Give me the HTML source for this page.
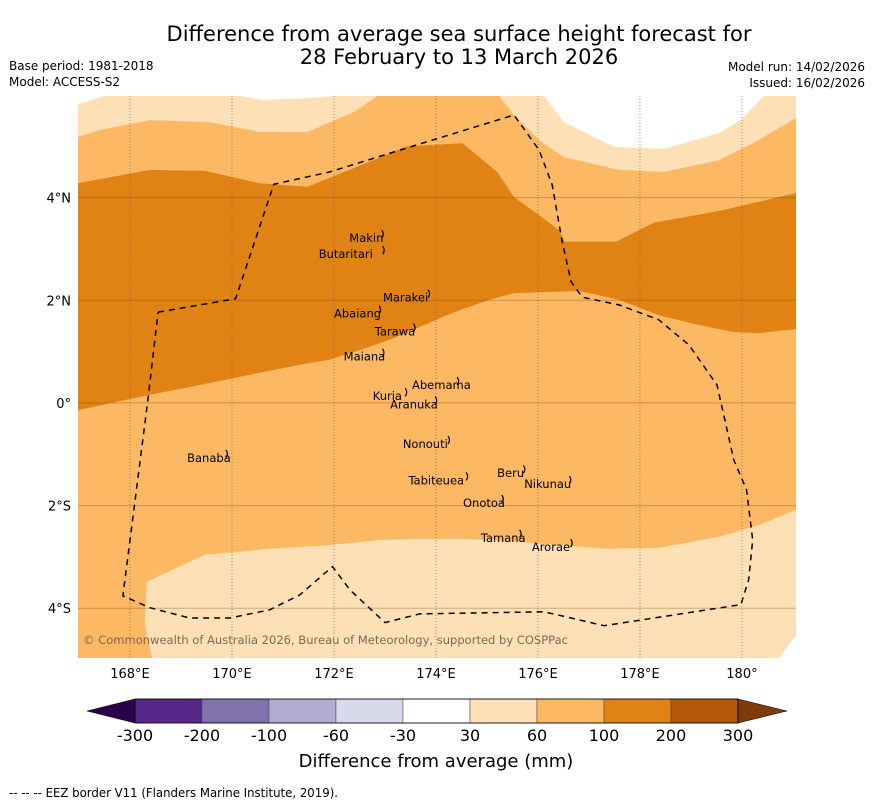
<!DOCTYPE html>
<html><head><meta charset="utf-8"><style>
html,body{margin:0;padding:0;background:#fff;}
svg{display:block;font-family:"DejaVu Sans","Liberation Sans",sans-serif;}
</style></head><body>
<svg id="chart" width="873" height="804" viewBox="0 0 873 804" xmlns="http://www.w3.org/2000/svg">
<text x="459" y="41" font-size="21" text-anchor="middle">Difference from average sea surface height forecast for</text>
<text x="459" y="64" font-size="21" text-anchor="middle">28 February to 13 March 2026</text>
<text x="9" y="70" font-size="12">Base period: 1981-2018</text>
<text x="9" y="86" font-size="12">Model: ACCESS-S2</text>
<text x="865" y="71" font-size="12" text-anchor="end">Model run: 14/02/2026</text>
<text x="865" y="87" font-size="12" text-anchor="end">Issued: 16/02/2026</text>
<defs><clipPath id="mapclip"><rect x="78" y="96" width="718" height="562"/></clipPath></defs>
<g id="map" clip-path="url(#mapclip)"></g>
<g id="axes"></g>
<g id="cbar"></g>
<text x="436" y="767" font-size="18" text-anchor="middle">Difference from average (mm)</text>
<text x="9" y="797" font-size="12" textLength="329" lengthAdjust="spacingAndGlyphs">--  --  -- EEZ border V11 (Flanders Marine Institute, 2019).</text>
</svg>
<script>
// ---- data (lon/lat) ----
const mapLonRange=[166.98,181.06];
const mapLatRange=[-4.97,5.98];
const lonTicks=[168,170,172,174,176,178,180];
const lonTickLabels=["168°E","170°E","172°E","174°E","176°E","178°E","180°"];
const latTicks=[4,2,0,-2,-4];
const latTickLabels=["4°N","2°N","0°","2°S","4°S"];
const band100to200Upper=[[166.98,4.28],[168.39,4.54],[169.47,4.52],[170.54,4.28],[171.48,4.21],[172.40,4.58],[173.44,5.00],[174.52,5.06],[175.20,4.50],[175.53,4.01],[176.02,3.66],[176.41,3.37],[176.53,3.14],[177.53,3.14],[178.27,3.51],[179.55,3.74],[181.06,4.09]];
const band100to200Lower=[[181.06,1.44],[180.33,1.36],[179.84,1.38],[179.15,1.52],[178.37,1.71],[177.59,2.01],[176.81,2.18],[176.12,2.16],[175.53,2.14],[175.05,2.01],[174.36,1.77],[173.68,1.48],[173.09,1.23],[172.50,1.03],[171.91,0.84],[171.52,0.78],[170.35,0.55],[169.37,0.35],[168.39,0.16],[166.98,-0.14]];
const light30to60TopLeft=[[166.98,5.82],[167.51,5.98],[170.15,5.98],[170.60,5.90],[171.52,5.94],[172.01,5.98],[172.85,5.98],[172.40,5.67],[171.48,5.28],[170.54,5.28],[169.57,5.47],[168.39,5.51],[167.41,5.32],[166.98,5.18]];
const white30TopLeft=[[166.98,5.98],[167.51,5.98],[166.98,5.82]];
const white30TopStrip=[[170.15,5.98],[170.60,5.90],[171.52,5.94],[172.01,5.98]];
const light30to60TopRight=[[175.24,5.98],[175.53,5.61],[176.02,5.12],[176.51,4.79],[177.59,4.54],[178.47,4.50],[179.55,4.73],[180.33,5.12],[181.06,5.55],[181.06,5.98]];
const white30TopRight=[[176.12,5.98],[176.51,5.47],[177.49,4.99],[178.47,4.95],[179.55,5.26],[179.98,5.51],[180.43,5.98]];
const light30to60Bottom=[[181.06,-2.08],[180.33,-2.38],[179.55,-2.61],[178.37,-2.82],[177.39,-2.84],[176.41,-2.77],[175.44,-2.69],[174.46,-2.65],[173.68,-2.65],[172.89,-2.67],[171.91,-2.77],[170.74,-2.84],[169.47,-2.96],[168.49,-3.41],[168.33,-3.49],[168.29,-4.32],[168.43,-4.97],[180.72,-4.97],[181.06,-4.52]];
const white30BottomRight=[[181.06,-4.52],[181.06,-4.97],[180.72,-4.97]];
const eezBorder=[[168.55,1.77],[170.07,2.03],[170.82,4.26],[171.91,4.50],[173.44,4.97],[175.53,5.61],[176.02,4.93],[176.28,4.25],[176.47,3.17],[176.65,2.36],[176.87,2.06],[177.59,1.91],[178.37,1.62],[178.96,1.13],[179.51,0.35],[179.84,-1.11],[180.09,-1.69],[180.21,-2.67],[180.13,-3.45],[179.98,-3.93],[177.30,-4.34],[176.12,-4.07],[173.68,-4.11],[173.00,-4.28],[172.31,-3.64],[171.97,-3.19],[171.33,-3.74],[170.74,-4.03],[169.96,-4.19],[169.17,-4.19],[168.39,-3.99],[167.86,-3.76],[168.35,0.06],[168.55,1.77]];
const islandNames=["Makin","Butaritari","Marakei","Abaiang","Tarawa","Maiana","Abemama","Kuria","Aranuka","Banaba","Nonouti","Beru","Nikunau","Tabiteuea","Onotoa","Tamana","Arorae"];
const islandLabelLon=[172.30,171.70,172.96,172.00,172.80,172.19,173.53,172.76,173.10,169.12,173.35,175.20,175.73,173.46,174.53,174.88,175.88];
const islandLabelLat=[3.21,2.90,2.05,1.74,1.39,0.90,0.35,0.13,-0.03,-1.07,-0.80,-1.37,-1.58,-1.51,-1.95,-2.63,-2.81];
const cbarBounds=["-300","-200","-100","-60","-30","30","60","100","200","300"];
const cbarColors=["#542788","#8073ac","#b2abd2","#d8daeb","#ffffff","#fee0b6","#fdb863","#e08214","#b35806"];
const cbarExtendColors=["#2d004b","#7f3b08"];

// ---- axis functions ----
const X0=78,X1=796,Y0=96,Y1=658;
function px(lon){return X0+(lon-mapLonRange[0])/(mapLonRange[1]-mapLonRange[0])*(X1-X0);}
function py(lat){return Y1-(lat-mapLatRange[0])/(mapLatRange[1]-mapLatRange[0])*(Y1-Y0);}
const NS="http://www.w3.org/2000/svg";
function mk(tag,attrs,parent){const e=document.createElementNS(NS,tag);for(const k in attrs)e.setAttribute(k,attrs[k]);parent.appendChild(e);return e;}
function pts(arr){return arr.map(p=>px(p[0]).toFixed(1)+","+py(p[1]).toFixed(1)).join(" ");}
const map=document.getElementById("map");
let e;
e=mk("rect",{x:X0,y:Y0,width:X1-X0,height:Y1-Y0,fill:"#fdb863"},map);


e=mk("polygon",{points:pts(band100to200Upper.concat(band100to200Lower)),fill:"#e08214"},map);


e=mk("polygon",{points:pts(light30to60TopLeft),fill:"#fee0b6"},map);


e=mk("polygon",{points:pts(white30TopLeft),fill:"#ffffff"},map);


e=mk("polygon",{points:pts(white30TopStrip),fill:"#ffffff"},map);


e=mk("polygon",{points:pts(light30to60TopRight),fill:"#fee0b6"},map);


e=mk("polygon",{points:pts(white30TopRight),fill:"#ffffff"},map);


e=mk("polygon",{points:pts(light30to60Bottom),fill:"#fee0b6"},map);


e=mk("polygon",{points:pts(white30BottomRight),fill:"#ffffff"},map);


lonTicks.forEach(l=>{
  const g=mk("line",{x1:px(l),x2:px(l),y1:Y0,y2:Y1,stroke:"#666",'stroke-width':0.7,'stroke-dasharray':"1,2"},map);
  
  
});
latTicks.forEach(l=>{
  const g=mk("line",{x1:X0,x2:X1,y1:py(l),y2:py(l),stroke:"rgba(120,70,10,0.35)",'stroke-width':1},map);
  
  
});
e=mk("polyline",{points:pts(eezBorder),fill:"none",stroke:"#000",'stroke-width':1.5,'stroke-dasharray':"6,5"},map);


islandNames.forEach((n,i)=>{
  const x=px(islandLabelLon[i]),y=py(islandLabelLat[i]);
  const t=mk("text",{x:x,y:y+4,'font-size':11.5,fill:"#000"},map);
  t.textContent=n;
  
  
  const w=n.length*6.3;
  const s=mk("path",{d:`M${x+w+1},${y-8} q3,4 0,8`,fill:"none",stroke:"#000",'stroke-width':1.2},map);
  
  
});
e=mk("text",{x:83,y:644,'font-size':11.5,fill:"#7a6a55",textLength:485,lengthAdjust:"spacingAndGlyphs"},map);
e.textContent="© Commonwealth of Australia 2026, Bureau of Meteorology, supported by COSPPac";


const axes=document.getElementById("axes");
lonTicks.forEach((l,i)=>{
  const t=mk("text",{x:px(l),y:678,'font-size':13,'text-anchor':"middle"},axes);
  t.textContent=lonTickLabels[i];
  
  
});
latTicks.forEach((l,i)=>{
  const t=mk("text",{x:71,y:py(l)+5,'font-size':13,'text-anchor':"end"},axes);
  t.textContent=latTickLabels[i];
  
  
});
const cb=document.getElementById("cbar");
const CB0=135,CB1=738,CBY=699,CBH=24,step=(CB1-CB0)/cbarColors.length;
cbarColors.forEach((c,i)=>{
  const r=mk("rect",{x:CB0+i*step,y:CBY,width:step,height:CBH,fill:c,stroke:"#444",'stroke-width':0.5},cb);
  
  
});
e=mk("polygon",{points:`${CB0},${CBY} 87,${CBY+CBH/2} ${CB0},${CBY+CBH}`,fill:cbarExtendColors[0],stroke:"#000",'stroke-width':0.5},cb);


e=mk("polygon",{points:`${CB1},${CBY} 787,${CBY+CBH/2} ${CB1},${CBY+CBH}`,fill:cbarExtendColors[1],stroke:"#000",'stroke-width':0.5},cb);


e=mk("rect",{x:CB0,y:CBY,width:CB1-CB0,height:CBH,fill:"none",stroke:"#000",'stroke-width':0.8},cb);


cbarBounds.forEach((b,i)=>{
  const t=mk("text",{x:CB0+i*step,y:741,'font-size':16,'text-anchor':"middle"},cb);
  t.textContent=b;
  
  
});
</script>
</body></html>
